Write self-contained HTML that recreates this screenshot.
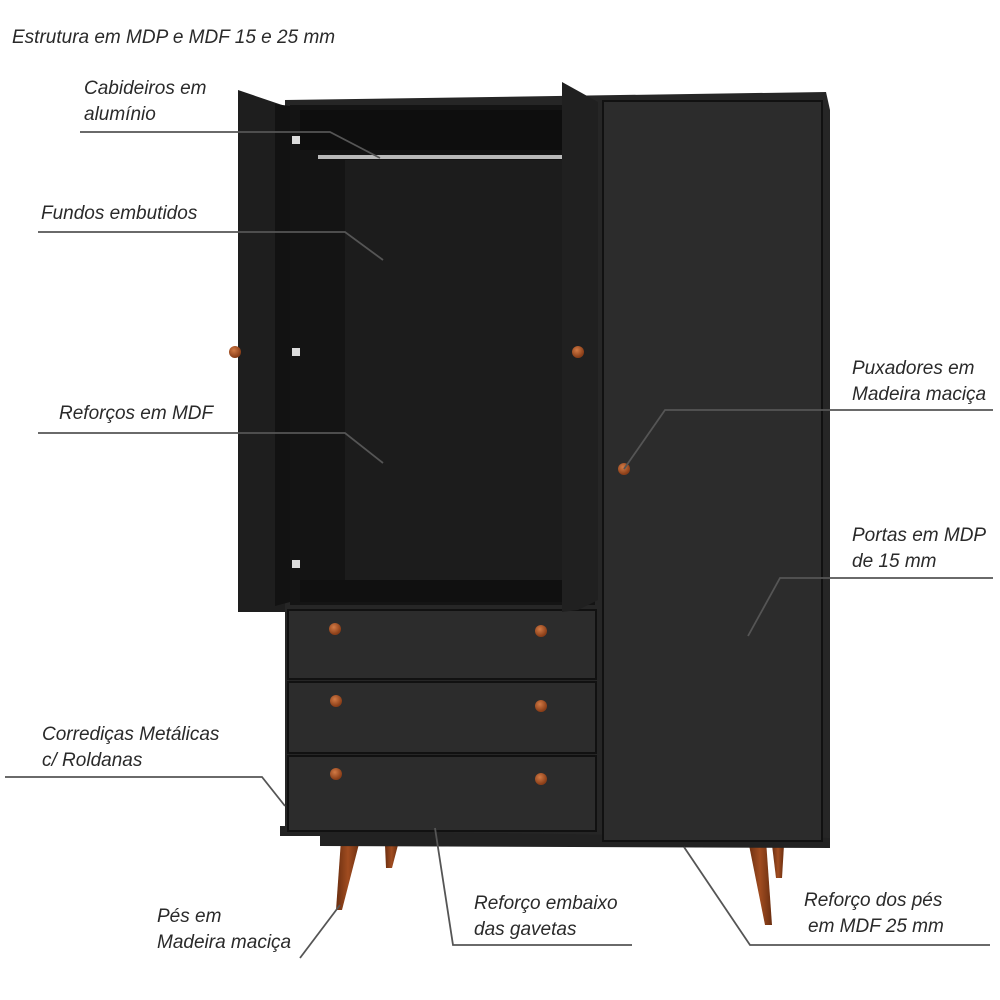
<!DOCTYPE html>
<html><head><meta charset="utf-8"><style>
html,body{margin:0;padding:0;background:#fff;width:1000px;height:1000px;overflow:hidden}
svg text{font-family:"Liberation Sans",sans-serif;font-style:italic;font-size:19px;fill:#2a2a2a}
</style></head><body>
<svg width="1000" height="1000" viewBox="0 0 1000 1000" xmlns="http://www.w3.org/2000/svg">
<defs>
<radialGradient id="k" cx="40%" cy="35%" r="60%"><stop offset="0" stop-color="#d27a45"/><stop offset="1" stop-color="#8a3e18"/></radialGradient>
<linearGradient id="leg" x1="0" x2="1"><stop offset="0" stop-color="#6a2e10"/><stop offset=".5" stop-color="#a04c20"/><stop offset="1" stop-color="#6a2e10"/></linearGradient>
</defs>
<polygon points="385,845 398,845 392,868 386,868" fill="url(#leg)"/>
<polygon points="772,845 784,845 782,878 776,878" fill="url(#leg)"/>
<polygon points="341,840 360,840 342,910 336,910" fill="url(#leg)"/>
<polygon points="748,840 766,840 772,925 765,925" fill="url(#leg)"/>
<polygon points="280,826 830,830 830,848 320,846 320,836 280,836" fill="#222"/>
<polygon points="285,100 826,92 830,110 830,838 285,830" fill="#262626"/>
<rect x="290" y="105" width="305" height="500" fill="#141414"/>
<rect x="300" y="110" width="285" height="40" fill="#0e0e0e"/>
<rect x="345" y="160" width="220" height="425" fill="#1c1c1c"/>
<rect x="300" y="580" width="270" height="22" fill="#101010"/>
<rect x="318" y="155" width="244" height="4" fill="#bbb"/>
<rect x="603" y="101" width="219" height="740" fill="#2c2c2c" stroke="#111" stroke-width="2"/>
<rect x="288" y="610" width="308" height="69" fill="#2c2c2c" stroke="#111" stroke-width="2"/>
<rect x="288" y="682" width="308" height="71" fill="#2c2c2c" stroke="#111" stroke-width="2"/>
<rect x="288" y="756" width="308" height="75" fill="#2c2c2c" stroke="#111" stroke-width="2"/>
<polygon points="238,90 285,106 285,612 238,612" fill="#1e1e1e"/>
<polygon points="275,104 290,106 290,602 275,606" fill="#121212"/>
<polygon points="562,82 580,92 598,102 598,600 578,610 562,612" fill="#202020"/>
<rect x="292" y="136" width="8" height="8" fill="#ddd"/>
<rect x="292" y="348" width="8" height="8" fill="#ddd"/>
<rect x="292" y="560" width="8" height="8" fill="#ddd"/>
<circle cx="235" cy="352" r="6" fill="url(#k)"/>
<circle cx="578" cy="352" r="6" fill="url(#k)"/>
<circle cx="624" cy="469" r="6" fill="url(#k)"/>
<circle cx="335" cy="629" r="6" fill="url(#k)"/>
<circle cx="541" cy="631" r="6" fill="url(#k)"/>
<circle cx="336" cy="701" r="6" fill="url(#k)"/>
<circle cx="541" cy="706" r="6" fill="url(#k)"/>
<circle cx="336" cy="774" r="6" fill="url(#k)"/>
<circle cx="541" cy="779" r="6" fill="url(#k)"/>
<g stroke="#555" stroke-width="1.8" fill="none">
<polyline points="80,132 330,132 380,158"/>
<polyline points="38,232 345,232 383,260"/>
<polyline points="38,433 345,433 383,463"/>
<polyline points="993,410 665,410 624,469"/>
<polyline points="993,578 780,578 748,636"/>
<polyline points="5,777 262,777 285,806"/>
<polyline points="300,958 340,905"/>
<polyline points="435,828 453,945 632,945"/>
<polyline points="684,847 750,945 990,945"/>
</g>
<text x="12" y="43">Estrutura em MDP e MDF 15 e 25 mm</text>
<text x="84" y="94">Cabideiros em</text>
<text x="84" y="120">alumínio</text>
<text x="41" y="219">Fundos embutidos</text>
<text x="59" y="419">Reforços em MDF</text>
<text x="852" y="374">Puxadores em</text>
<text x="852" y="400">Madeira maciça</text>
<text x="852" y="541">Portas em MDP</text>
<text x="852" y="567">de 15 mm</text>
<text x="42" y="740">Corrediças Metálicas</text>
<text x="42" y="766">c/ Roldanas</text>
<text x="157" y="922">Pés em</text>
<text x="157" y="948">Madeira maciça</text>
<text x="474" y="909">Reforço embaixo</text>
<text x="474" y="935">das gavetas</text>
<text x="804" y="906">Reforço dos pés</text>
<text x="808" y="932">em MDF 25 mm</text>
</svg>
</body></html>
